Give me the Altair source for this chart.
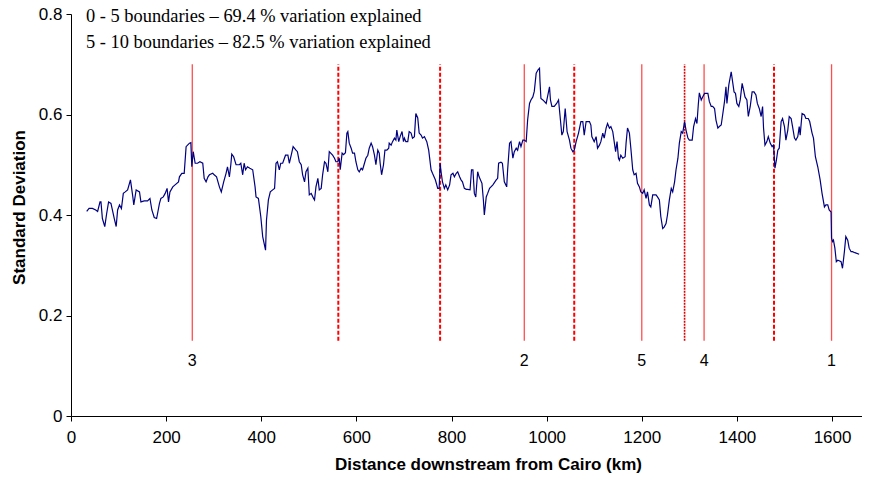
import altair as alt
import pandas as pd

# Standard deviation profile along the river (km, value)
km = [33, 38, 45, 52, 56, 61, 63, 66, 71, 75, 79, 84, 87, 91, 95, 98, 102, 106, 110, 114, 119, 125, 130, 132, 137, 144, 147, 154, 161, 166, 170, 175, 180, 186, 189, 194, 198, 202, 205, 208, 214, 220, 226, 228, 233, 238, 242, 249, 252, 254, 257, 261, 266, 271, 277, 280, 284, 288, 291, 298,
      301, 306, 312, 316, 321, 326, 329, 333, 336, 338, 342, 347, 354, 357, 361, 364, 367, 371, 376, 382, 387, 389, 394, 399, 403, 409, 411, 415, 419, 424, 428, 431, 434, 438, 441, 445, 451, 456, 459, 463, 467, 473, 476, 480, 484, 487, 491, 494, 498, 501, 505, 510, 512, 515, 519, 522, 526, 529, 533, 536, 540, 543, 550, 554, 557, 561, 564, 566, 570,
      573, 577, 580, 582, 585, 589, 592, 596, 599, 603, 606, 610, 613, 617, 620, 624, 627, 631, 634, 638, 641, 645, 648, 650, 653, 657, 660, 664, 668, 669, 673, 676, 680, 683, 685, 689, 692, 696, 699, 701, 704, 708, 711, 715, 718, 722, 725, 729, 732, 736, 739, 743, 748, 752, 757, 760, 766, 771, 774, 776, 778, 781, 785, 788, 792, 796, 799, 803, 806, 810, 813, 817, 820, 823, 827, 831, 834, 839, 842, 845,
      848, 851, 855, 858, 864, 867, 869, 873, 876, 880, 883, 887, 894, 897, 899, 904, 907, 911, 916, 918, 922, 925, 929, 932, 936, 939, 943, 946, 950, 953, 957, 960, 964, 967, 971, 974, 978, 982, 985, 986, 988, 992, 995, 999, 1002, 1006, 1008, 1011, 1016, 1021, 1025, 1028, 1032, 1035, 1039, 1043, 1048, 1051, 1055, 1058, 1062, 1067, 1072, 1076, 1079, 1083, 1086, 1090, 1093, 1095, 1100, 1104, 1107, 1111, 1114, 1118, 1121,
      1125, 1128, 1132, 1135, 1139, 1142, 1145, 1148, 1151, 1153, 1156, 1160, 1165, 1167, 1170, 1174, 1177, 1181, 1184, 1188, 1191, 1195, 1198, 1202, 1205, 1209, 1212, 1216, 1219, 1223, 1226, 1230, 1233, 1237, 1240, 1244, 1247, 1251, 1254, 1258, 1262, 1265, 1269, 1272, 1276, 1279, 1283, 1286, 1290, 1293, 1297, 1300, 1306, 1309, 1313, 1316, 1319, 1321, 1325, 1328, 1332, 1335, 1339, 1342, 1346, 1349, 1353, 1356, 1360, 1363, 1367, 1370, 1374, 1377, 1379, 1383, 1388,
      1394, 1397, 1400, 1404, 1407, 1411, 1414, 1417, 1421, 1424, 1428, 1432, 1436, 1440, 1443, 1447, 1451, 1454, 1456, 1459, 1463, 1466, 1470, 1474, 1477, 1480, 1483, 1486, 1489, 1493, 1496, 1500, 1503, 1507, 1510, 1514, 1517, 1521, 1524, 1528, 1531, 1533, 1537, 1542, 1545, 1550, 1553, 1558, 1561, 1565, 1570, 1575, 1579, 1584, 1587, 1591, 1594, 1598, 1599, 1601, 1603, 1606, 1609, 1612, 1615, 1619, 1622, 1626, 1629, 1633, 1636, 1640, 1643, 1648, 1657]
sd = [.407, .413, .413, .410, .407, .426, .426, .393, .377, .403, .426, .423, .410, .393, .377, .410, .420, .413, .443, .446, .450, .470, .436, .420, .450, .446, .426, .428, .428, .433, .410, .395, .393, .423, .433, .436, .443, .453, .426, .446, .456, .461, .466, .476, .483, .483, .536, .543, .544, .496, .526, .503, .503, .506, .503, .473, .466, .476, .480, .483,
      .480, .476, .456, .446, .466, .483, .496, .476, .500, .521, .516, .500, .500, .503, .480, .503, .490, .496, .493, .490, .456, .436, .433, .397, .357, .330, .390, .430, .446, .450, .453, .503, .506, .490, .503, .503, .519, .519, .503, .519, .536, .529, .526, .506, .500, .480, .466, .486, .493, .440, .443, .433, .430, .456, .473, .450, .453, .480, .506, .503, .486, .526, .519, .513, .506, .506, .513, .490, .523,
      .520, .524, .563, .566, .543, .533, .523, .523, .506, .490, .486, .493, .490, .503, .513, .519, .533, .543, .536, .519, .500, .529, .523, .503, .480, .500, .529, .529, .533, .543, .539, .546, .553, .549, .569, .546, .556, .566, .546, .553, .546, .546, .566, .563, .553, .556, .602, .593, .563, .559, .553, .556, .546, .529, .490, .483, .470, .453, .453, .503, .486, .466, .453, .460, .450, .460, .480, .483, .476, .483, .486, .476, .470, .466, .453, .451, .451, .450, .490, .490,
      .443, .436, .486, .476, .463, .430, .400, .436, .443, .453, .456, .460, .470, .473, .503, .505, .503, .466, .456, .490, .543, .546, .513, .526, .533, .529, .546, .536, .549, .549, .546, .589, .622, .629, .635, .646, .682, .689, .692, .666, .632, .629, .626, .622, .636, .655, .629, .616, .616, .622, .629, .599, .559, .566, .612, .566, .549, .533, .526, .529, .546, .563, .586, .586, .559, .586, .586, .586, .579, .556, .546, .556, .533, .539, .546, .563, .553,
      .573, .582, .573, .576, .566, .546, .526, .546, .513, .509, .519, .513, .516, .543, .573, .563, .533, .490, .480, .483, .463, .456, .446, .443, .450, .433, .446, .420, .416, .440, .440, .440, .436, .430, .397, .373, .376, .383, .400, .430, .453, .446, .466, .490, .513, .543, .566, .563, .586, .569, .553, .549, .549, .576, .592, .582, .622, .643, .629, .635, .642, .642, .642, .626, .616, .616, .612, .589, .573, .576, .579, .599, .626, .655, .622, .659, .685,
      .645, .642, .622, .616, .629, .662, .649, .635, .629, .596, .616, .645, .645, .639, .622, .612, .596, .616, .573, .539, .546, .556, .543, .536, .539, .493, .509, .529, .533, .586, .592, .576, .549, .569, .596, .592, .576, .553, .549, .556, .576, .559, .602, .599, .592, .592, .586, .563, .553, .516, .496, .470, .443, .416, .420, .420, .410, .406, .354, .347, .350, .334, .307, .310, .309, .307, .294, .327, .357, .350, .334, .327, .327, .325, .322]

# Boundaries
solid_km = [255, 953, 1200, 1331, 1599]
solid_labels = ["3", "2", "5", "4", "1"]
dashed_km = [562, 776, 1058, 1478]
dotted_km = [1290]
rule_bottom = 0.15
rule_top = 0.70
label_level = 0.11

x_ticks = [0, 200, 400, 600, 800, 1000, 1200, 1400, 1600]
y_ticks = [0, 0.2, 0.4, 0.6, 0.8]
x_title = "Distance downstream from Cairo (km)"
y_title = "Standard Deviation"
notes = ["0 - 5 boundaries \u2013 69.4 % variation explained",
         "5 - 10 boundaries \u2013 82.5 % variation explained"]

profile = pd.DataFrame({"km": km, "sd": sd})
solid_df = pd.DataFrame({"km": solid_km, "label": solid_labels})
dashed_df = pd.DataFrame({"km": dashed_km})
dotted_df = pd.DataFrame({"km": dotted_km})

xscale = alt.Scale(domain=[0, 1663], nice=False, zero=False)
yscale = alt.Scale(domain=[0, 0.8], nice=False)

x_enc = alt.X("km:Q", scale=xscale, title=x_title,
              axis=alt.Axis(values=x_ticks, format="d", titleX=417))

line = alt.Chart(profile).mark_line(color="#000080", strokeWidth=1.2).encode(
    x=x_enc,
    y=alt.Y("sd:Q", scale=yscale, title=y_title,
            axis=alt.Axis(values=y_ticks, titleY=193,
                          labelExpr="datum.value == 0 ? '0' : format(datum.value, '.1f')")),
)


def rules(df, **style):
    return alt.Chart(df).mark_rule(**style).encode(
        x=x_enc,
        y=alt.YDatum(rule_bottom, scale=yscale, title=y_title),
        y2=alt.Y2Datum(rule_top),
    )


solid = rules(solid_df, color="#ff4d4d", strokeWidth=1.3)
dashed = rules(dashed_df, color="#ff0000", strokeWidth=2, strokeDash=[4, 2])
dotted = rules(dotted_df, color="#dd0000", strokeWidth=1.6, strokeDash=[2, 1])

labels = alt.Chart(solid_df).mark_text(
    font="Liberation Sans", fontSize=16, color="black", baseline="middle", align="center"
).encode(
    x=x_enc,
    y=alt.YDatum(label_level, scale=yscale, title=y_title),
    text="label:N",
)
note1 = alt.Chart(pd.DataFrame({"t": [notes[0]]})).mark_text(
    font="Liberation Serif", fontSize=18.4, color="black", align="left", baseline="middle"
).encode(x=alt.value(15), y=alt.value(1.5), text="t:N")
note2 = alt.Chart(pd.DataFrame({"t": [notes[1]]})).mark_text(
    font="Liberation Serif", fontSize=18.4, color="black", align="left", baseline="middle"
).encode(x=alt.value(15), y=alt.value(27.5), text="t:N")

chart = alt.layer(solid, dashed, dotted, line, labels, note1, note2).properties(
    width=791, height=402,
    autosize=alt.AutoSizeParams(type="none"),
    padding={"left": 63, "top": 6, "right": 0, "bottom": 57},
    background="white",
).configure_view(strokeWidth=0).configure_axis(
    grid=False, labelFlush=False,
    domainColor="black", domainWidth=1,
    tickColor="black", tickSize=5, tickWidth=1,
    labelFont="Liberation Sans", labelFontSize=17, labelColor="black",
    titleFont="Liberation Sans", titleFontSize=17, titleFontWeight="bold", titleColor="black",
).configure_axisX(labelPadding=8, titlePadding=11).configure_axisY(labelPadding=4, titlePadding=10)

chart.save("out.html", embed_options={"renderer": "svg", "actions": False})
